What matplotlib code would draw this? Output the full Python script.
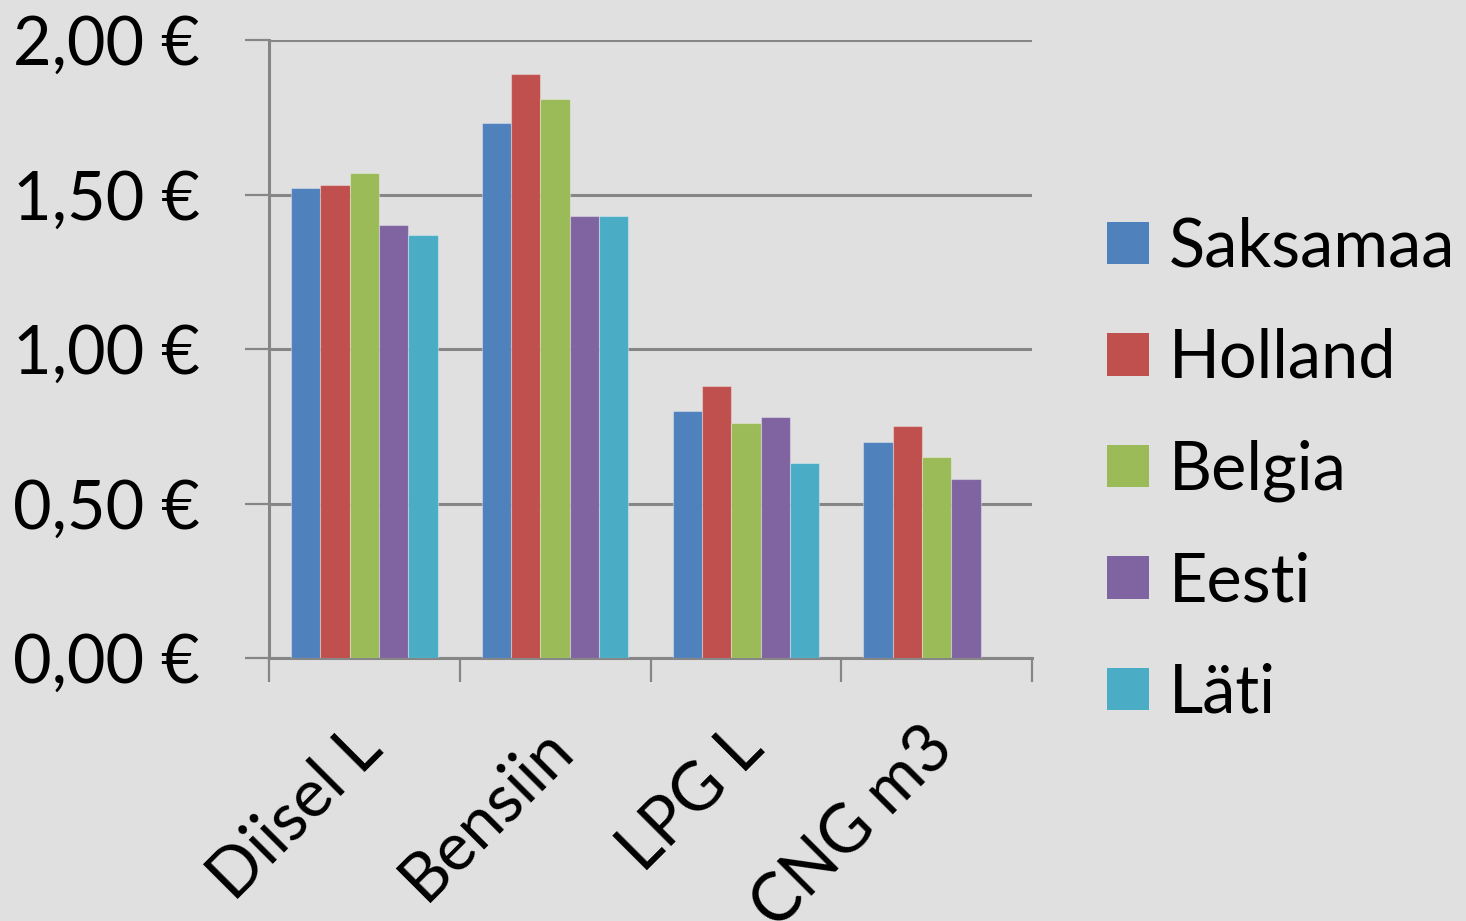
import matplotlib
matplotlib.use("Agg")
import matplotlib.pyplot as plt
import matplotlib.transforms as mtransforms
import numpy as np

# Fuel prices by country (EUR per unit)
categories = ["Diisel L", "Bensiin", "LPG L", "CNG m3"]
series_names = ["Saksamaa", "Holland", "Belgia", "Eesti", "Läti"]
saksamaa = [1.52, 1.73, 0.80, 0.70]
holland = [1.53, 1.89, 0.88, 0.75]
belgia = [1.57, 1.81, 0.76, 0.65]
eesti = [1.40, 1.43, 0.78, 0.58]
lati = [1.37, 1.43, 0.63, np.nan]
y_ticks = [0.0, 0.5, 1.0, 1.5, 2.0]
y_tick_labels = ["0,00 €", "0,50 €", "1,00 €", "1,50 €", "2,00 €"]

colors = ["#4F81BD", "#C0504D", "#9BBB59", "#8064A2", "#4BACC6"]
bg = "#E0E0E0"
grid_c = "#868686"

plt.rcParams["font.family"] = ["Lato", "DejaVu Sans"]

fig = plt.figure(figsize=(14.66, 9.21), dpi=100, facecolor=bg)
ax = fig.add_axes([269 / 1466, 1 - 658 / 921, (1032 - 269) / 1466, (658 - 40) / 921])
ax.set_facecolor(bg)

values = [saksamaa, holland, belgia, eesti, lati]
n = len(values)
gap = 1.5
bw = 1.0 / (n + gap)
x = np.arange(len(categories))
handles = []
for i, (vals, col, name) in enumerate(zip(values, colors, series_names)):
    offs = (i - (n - 1) / 2) * bw
    b = ax.bar(x + offs, vals, width=bw, color=col, edgecolor=(1, 1, 1, 0.35),
               linewidth=0.8, label=name, zorder=3)
    handles.append(b)

ax.set_xlim(-0.5, len(categories) - 0.5)
ax.set_ylim(0, 2.0)

# gridlines
ax.set_yticks(y_ticks)
ax.set_yticklabels(y_tick_labels, fontsize=48)
ax.yaxis.grid(True, color=grid_c, linewidth=2.2, zorder=1)
ax.tick_params(axis="y", direction="out", length=17, width=1.6, color=grid_c, pad=33)

# category boundaries as major ticks, labels on minor ticks
ax.set_xticks(np.arange(len(categories) + 1) - 0.5)
ax.set_xticklabels([])
ax.set_xticks(x, minor=True)
ax.set_xticklabels(categories, minor=True, fontsize=48, rotation=45,
                   ha="right", va="center", rotation_mode="anchor")
ax.tick_params(axis="x", which="major", direction="out", length=17, width=1.6, color=grid_c)
ax.tick_params(axis="x", which="minor", length=0, pad=58)
shift = mtransforms.ScaledTranslation(7 / 100, 0, fig.dpi_scale_trans)
for lbl in ax.get_xticklabels(minor=True):
    lbl.set_transform(lbl.get_transform() + shift)

for s in ["top", "right"]:
    ax.spines[s].set_visible(False)
for s in ["left", "bottom"]:
    ax.spines[s].set_color(grid_c)
    ax.spines[s].set_linewidth(2.2)

leg = fig.legend(handles=handles, labels=series_names, loc="upper left",
                 bbox_to_anchor=(1080 / 1466, 1 - 190 / 921), frameon=False,
                 fontsize=48, handlelength=0.63, handleheight=0.6,
                 handletextpad=0.3, labelspacing=0.74, borderaxespad=0)
for h in leg.legend_handles:
    h.set_edgecolor("none")

fig.savefig("out.png", dpi=100, facecolor=bg)
